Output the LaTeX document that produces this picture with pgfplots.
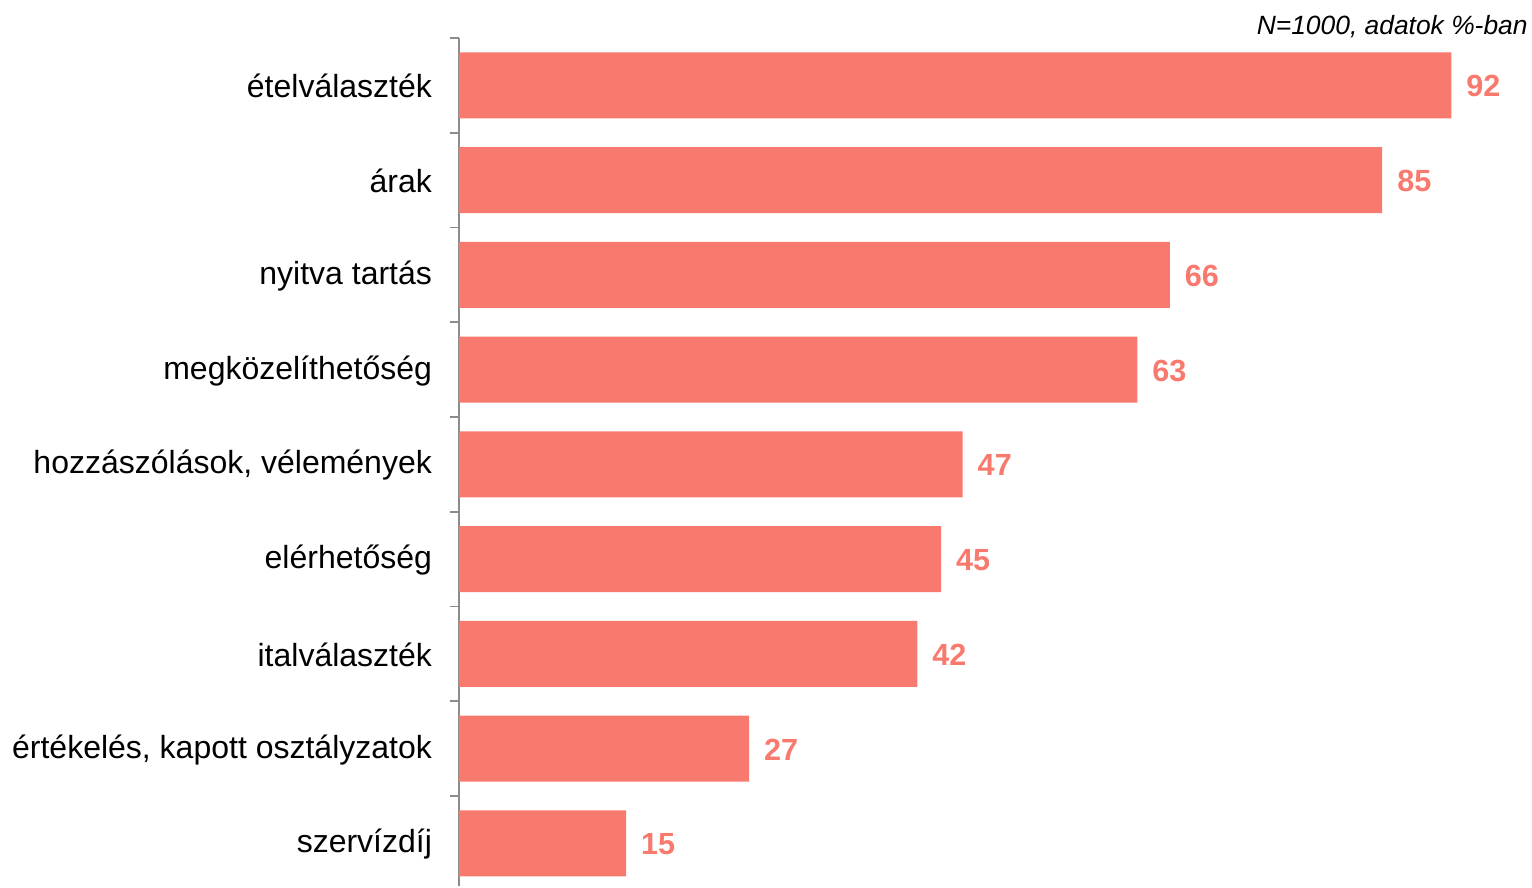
\documentclass[border=0pt]{standalone}
\usepackage{pgfplots}
\pgfplotsset{compat=1.18}
\usepackage{fontspec}
\setmainfont{Liberation Sans}
\definecolor{barc}{HTML}{F87A6E}
\definecolor{axc}{HTML}{8C8C8C}
\begin{document}
\begin{tikzpicture}
\begin{axis}[
  name=ax,
  scale only axis,
  width=535.5pt, height=424.2pt,
  xbar, bar width=33pt,
  xmin=0, xmax=99.3,
  ymin=-0.5, ymax=8.454,
  y dir=reverse,
  axis x line=none,
  axis y line*=left,
  axis line style={axc, line width=0.8pt},
  ytick={0,...,8},
  yticklabels={ételválaszték, árak, nyitva tartás, megközelíthetőség, {hozzászólások, vélemények}, elérhetőség, italválaszték, {értékelés, kapott osztályzatok}, szervízdíj},
  yticklabel style={font=\fontsize{16}{19}\selectfont, xshift=-10pt, yshift=-0.5pt},
  major tick length=0pt,
  minor ytick={-0.5,0.5,...,7.5},
  minor tick length=4.5pt,
  tick align=outside,
  minor tick style={axc, line width=0.8pt},
  clip=false,
  point meta=explicit symbolic,
  nodes near coords={\pgfplotspointmeta},
  nodes near coords style={font=\fontsize{15.3}{18}\selectfont\bfseries, text=barc, anchor=west, xshift=4pt, yshift=-0.5pt},
]
\addplot[fill=barc, draw=none] coordinates {
  (92,0) [92]
  (85.6,1) [85]
  (65.9,2) [66]
  (62.9,3) [63]
  (46.7,4) [47]
  (44.7,5) [45]
  (42.5,6) [42]
  (26.9,7) [27]
  (15.5,8) [15]
};
\end{axis}
\node[anchor=base east, font=\fontsize{13.2}{15}\selectfont\itshape, inner sep=0pt] at ([xshift=-1pt, yshift=1.5pt]ax.north east) {N=1000, adatok \%-ban};
\path (ax.south west) ++(-229.5pt,0) coordinate (bl);
\path (ax.north east) ++(1pt,19pt) coordinate (tr);
\useasboundingbox (bl) rectangle (tr);
\end{tikzpicture}
\end{document}
